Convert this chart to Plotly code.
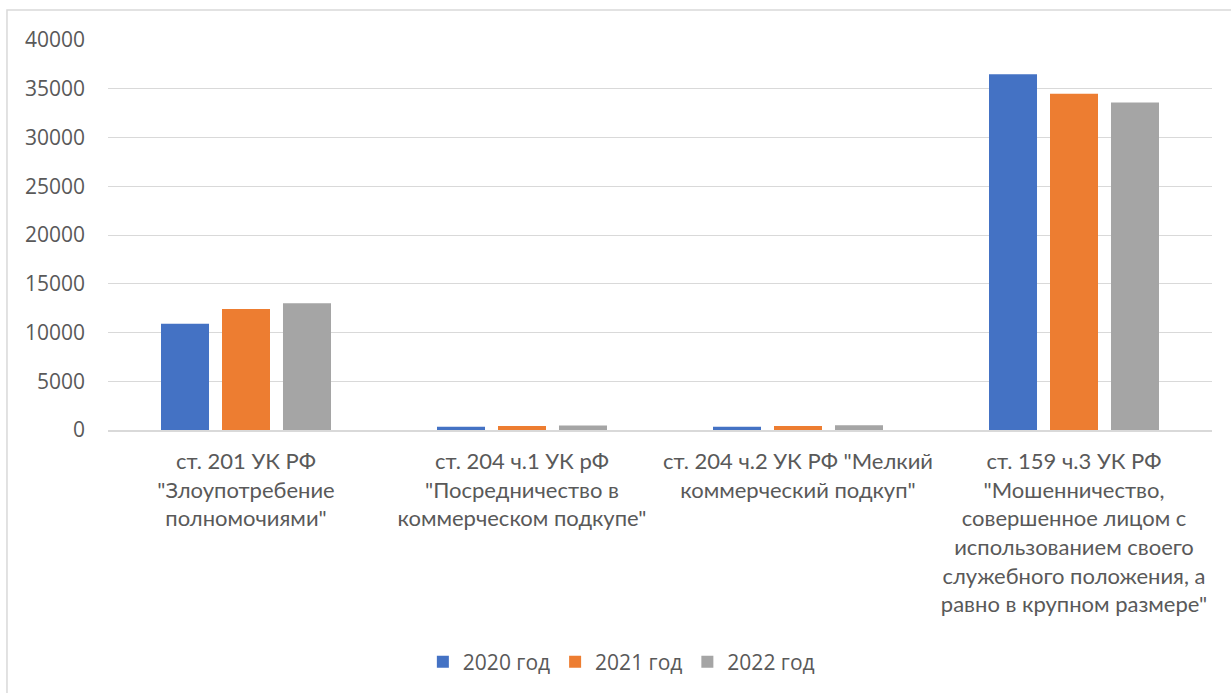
import plotly.graph_objects as go

categories = [
    'ст. 201 УК РФ<br>"Злоупотребение<br>полномочиями"',
    'ст. 204 ч.1 УК рФ<br>"Посредничество в<br>коммерческом подкупе"',
    'ст. 204 ч.2 УК РФ "Мелкий<br>коммерческий подкуп"',
    'ст. 159 ч.3 УК РФ<br>"Мошенничество,<br>совершенное лицом с<br>использованием своего<br>служебного положения, а<br>равно в крупном размере"',
]
series_names = ["2020 год", "2021 год", "2022 год"]
values_2020 = [10900, 330, 340, 36500]
values_2021 = [12400, 400, 410, 34500]
values_2022 = [13000, 470, 480, 33600]
y_ticks = [0, 5000, 10000, 15000, 20000, 25000, 30000, 35000, 40000]
y_tick_labels = [str(v) for v in y_ticks]

colors = ["#4472C4", "#ED7D31", "#A5A5A5"]
FONT = "Open Sans"
XFONT = "Lato, Open Sans"
TXT = "#595959"

fig = go.Figure()
for name, vals, col in zip(series_names, [values_2020, values_2021, values_2022], colors):
    fig.add_trace(go.Bar(x=categories, y=vals, name=name, marker_color=col,
                         marker_line_width=0))

fig.update_layout(
    width=1231, height=693,
    margin=dict(l=108, r=19, t=40, b=263, autoexpand=False),
    paper_bgcolor="white", plot_bgcolor="white",
    barmode="group", bargap=0.337, bargroupgap=0.213,
    font=dict(family=FONT, size=20, color=TXT),
    showlegend=True,
    legend=dict(orientation="h", x=0.465, xanchor="center", y=-0.595, yanchor="middle",
                font=dict(size=21, color=TXT), itemwidth=30, traceorder="normal"),
    xaxis=dict(showgrid=False, showline=True, linecolor="#d9d9d9", linewidth=1.5,
               ticks="", tickfont=dict(family=XFONT, size=22, color=TXT),
               ticklabelstandoff=11, tickangle=0),
    yaxis=dict(range=[0, 40000], tickvals=y_ticks, ticktext=y_tick_labels,
               showgrid=True, gridcolor="#d9d9d9",
               gridwidth=1.2, zeroline=False, showline=False, ticks="",
               tickfont=dict(size=21, color=TXT), ticklabelstandoff=22),
    shapes=[dict(type="rect", xref="paper", yref="paper",
                 x0=-0.0915, x1=1.03, y0=-0.72, y1=1.0769,
                 line=dict(color="#d9d9d9", width=1.5), fillcolor="rgba(0,0,0,0)",
                 layer="below")],
)

fig.write_html("out.html")
